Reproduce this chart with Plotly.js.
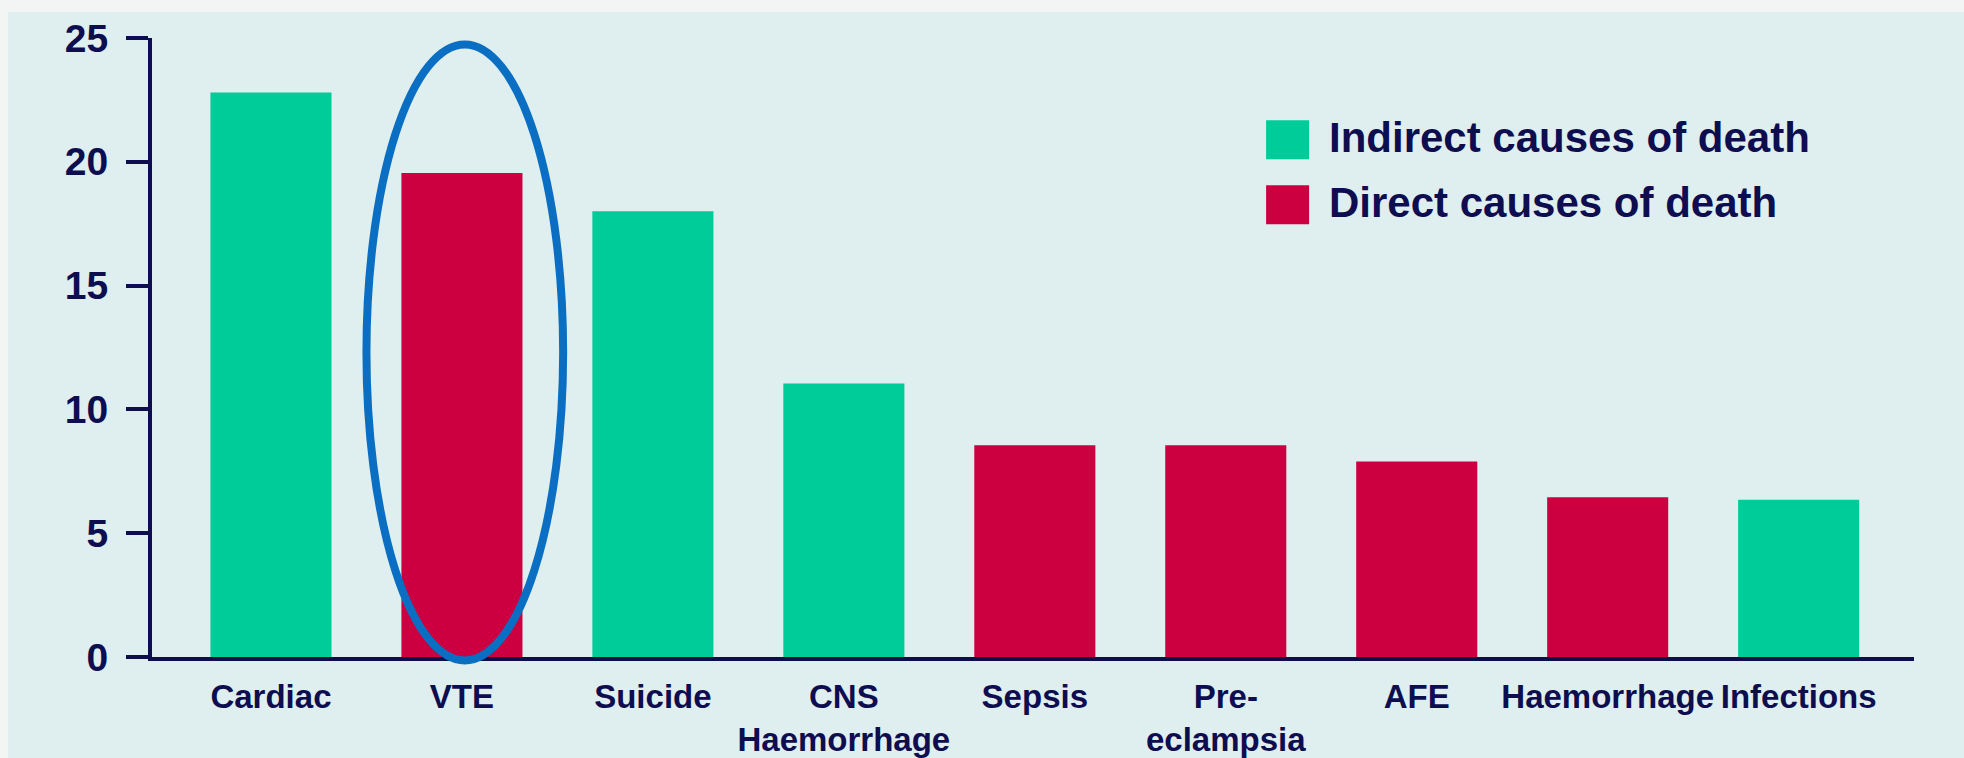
<!DOCTYPE html>
<html>
<head>
<meta charset="utf-8">
<script src="https://cdn.plot.ly/plotly-3.0.1.min.js"></script>
<style>
  html, body { margin: 0; padding: 0; width: 1964px; height: 758px; overflow: hidden; background: #f3f4f4; }
  #chart { position: absolute; left: 8px; top: 12px; width: 1956px; height: 746px; }
</style>
</head>
<body>
<div id="chart"></div>
<script>
// ---- data ----
const categories = ["Cardiac", "VTE", "Suicide", "CNS<br>Haemorrhage", "Sepsis", "Pre-<br>eclampsia", "AFE", "Haemorrhage", "Infections"];
const values     = [22.8, 19.55, 18.0, 11.05, 8.55, 8.55, 7.9, 6.45, 6.35];
const causeType  = ["Indirect", "Direct", "Indirect", "Indirect", "Direct", "Direct", "Direct", "Direct", "Indirect"];
const seriesNames = { Indirect: "Indirect causes of death", Direct: "Direct causes of death" };
const yTicks = [0, 5, 10, 15, 20, 25];
const highlighted = "VTE";

// ---- styles ----
const NAVY = "#0d0d50";
const GREEN = "#00cc99";
const RED = "#cc0040";
const FONT = "Liberation Sans, Arial, sans-serif";
const colorOf = { Indirect: GREEN, Direct: RED };

const traces = ["Indirect", "Direct"].map(t => {
  const xs = [], ys = [];
  categories.forEach((c, i) => { if (causeType[i] === t) { xs.push(c); ys.push(values[i]); } });
  return {
    type: "bar", name: seriesNames[t], x: xs, y: ys,
    marker: { color: colorOf[t], line: { width: 0 } },
    width: 0.634, showlegend: false, hoverinfo: "x+y"
  };
});

const hiIdx = categories.indexOf(highlighted);

// legend drawn as big squares + text (paper coordinates)
const legendRows = [
  { key: "Indirect", y0: 0.804, y1: 0.867, ty: 0.840 },
  { key: "Direct",   y0: 0.699, y1: 0.762, ty: 0.735 }
];
const shapes = [
  {
    type: "circle", xref: "x", yref: "paper",
    x0: hiIdx - 0.5, x1: hiIdx + 0.53, y0: -0.0055, y1: 0.9897,
    line: { color: "#0a6fc2", width: 8 }, fillcolor: "rgba(0,0,0,0)", layer: "above"
  }
];
const annotations = [];
legendRows.forEach(r => {
  shapes.push({ type: "rect", xref: "paper", yref: "paper", x0: 0.6323, x1: 0.6567, y0: r.y0, y1: r.y1,
                fillcolor: colorOf[r.key], line: { width: 0 } });
  annotations.push({ xref: "paper", yref: "paper", x: 0.6669, y: r.ty, xanchor: "left", yanchor: "middle",
                     text: seriesNames[r.key], showarrow: false,
                     font: { family: FONT, size: 42, color: NAVY, weight: "bold" } });
});

const layout = {
  width: 1956, height: 746,
  margin: { l: 143.6, r: 50, t: 25.6, b: 101.4, pad: 0 },
  paper_bgcolor: "#dfeeee", plot_bgcolor: "rgba(0,0,0,0)",
  barmode: "overlay",
  showlegend: false,
  xaxis: {
    type: "category", categoryorder: "array", categoryarray: categories,
    range: [-0.623, 8.604],
    showline: true, linecolor: NAVY, linewidth: 4,
    ticks: "", showgrid: false, zeroline: false,
    tickangle: 0, automargin: false,
    ticklabelstandoff: 7,
    tickfont: { family: FONT, size: 33, color: NAVY, weight: "bold" }
  },
  yaxis: {
    range: [0, 25], tickvals: yTicks, ticktext: yTicks.map(String),
    showline: true, linecolor: NAVY, linewidth: 4,
    ticks: "outside", ticklen: 22, tickwidth: 4, tickcolor: NAVY,
    showgrid: false, zeroline: false, automargin: false,
    ticklabelstandoff: 10,
    tickfont: { family: FONT, size: 39, color: NAVY, weight: "bold" }
  },
  shapes: shapes,
  annotations: annotations
};

Plotly.newPlot("chart", traces, layout, { displayModeBar: false, staticPlot: true });
</script>
</body>
</html>
